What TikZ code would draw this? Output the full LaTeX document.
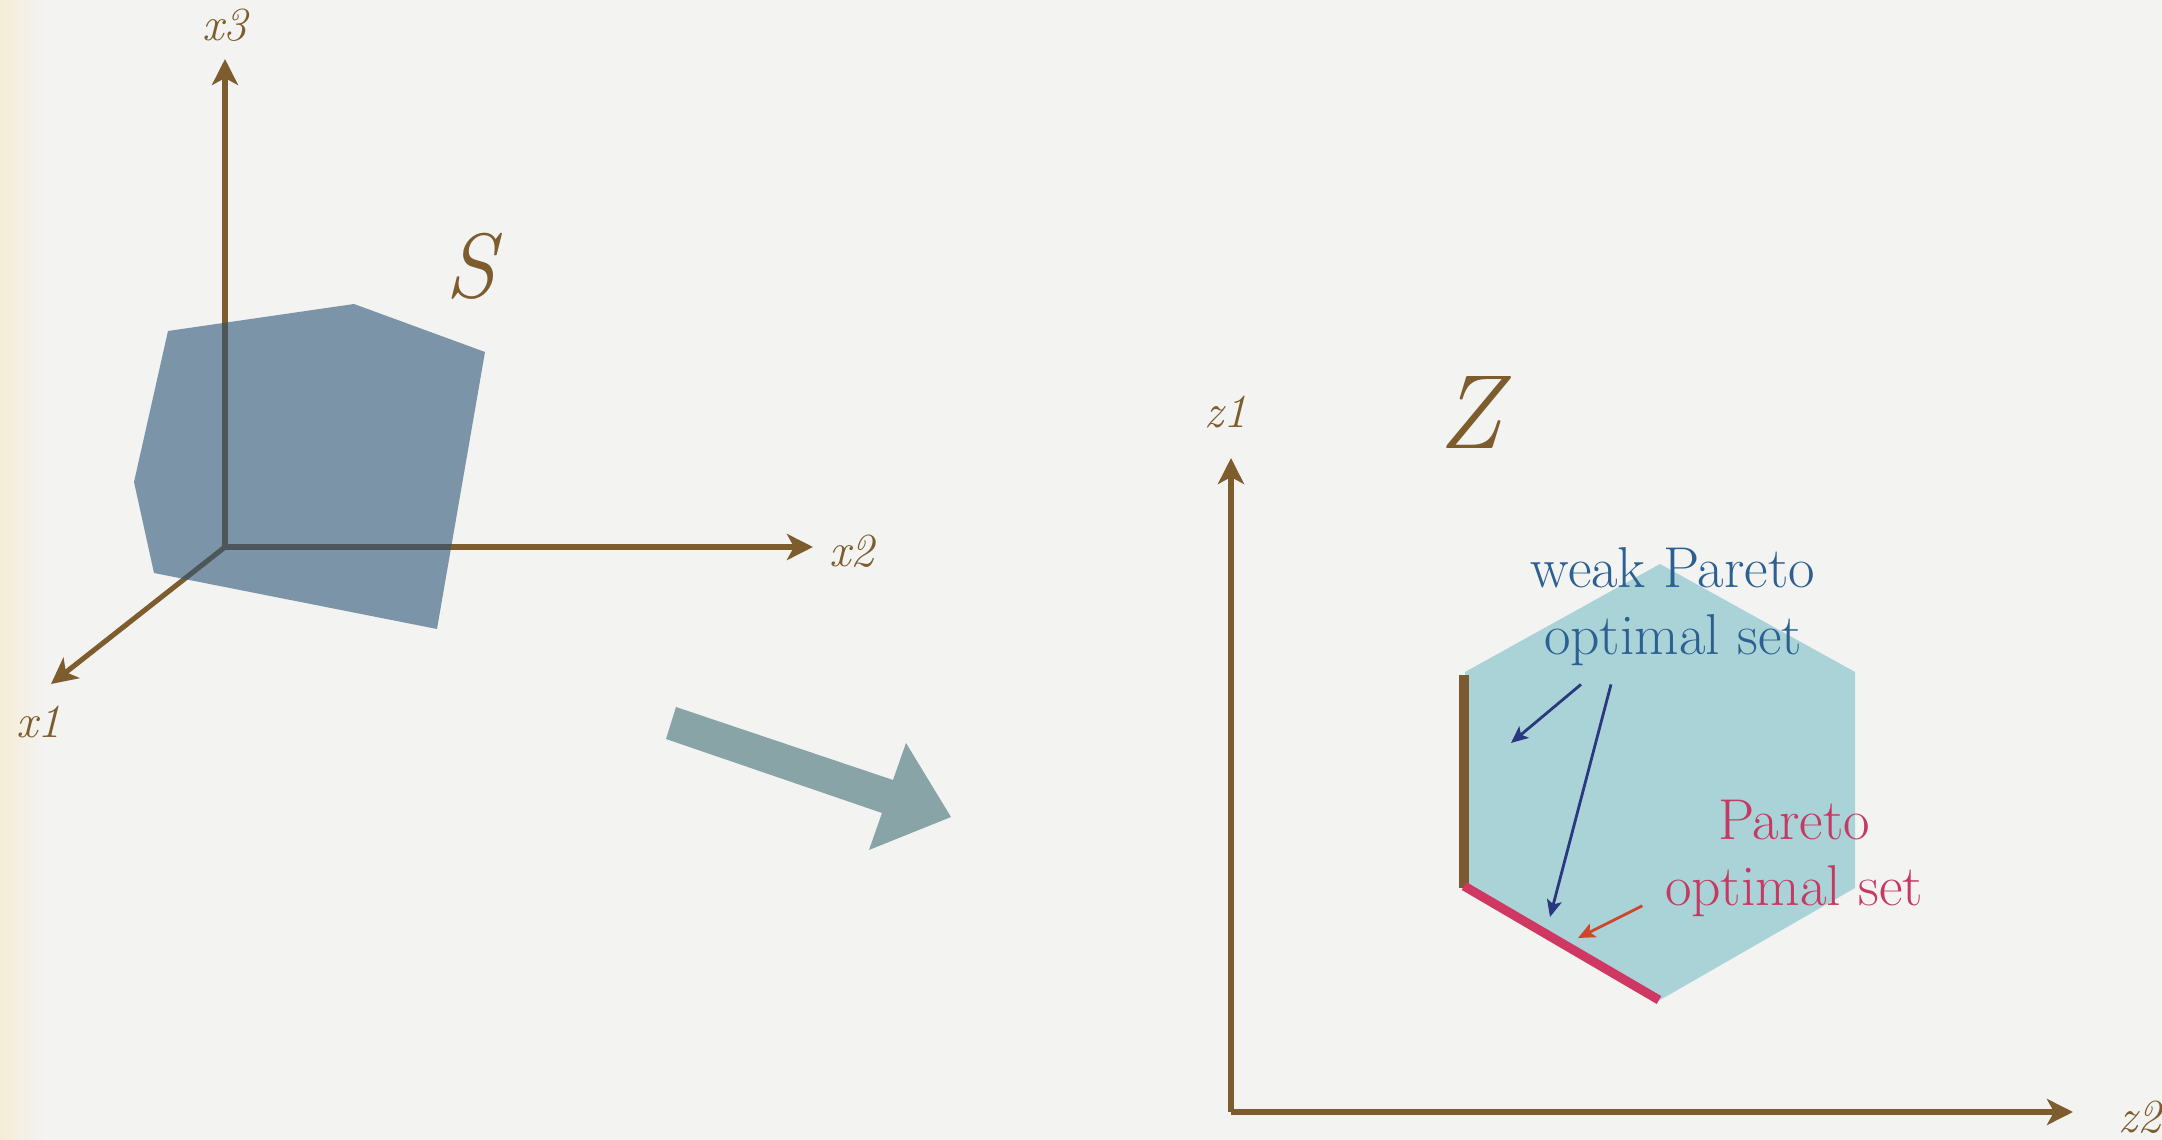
\documentclass[tikz,border=0pt]{standalone}
\usetikzlibrary{arrows.meta,calc}
\definecolor{bgc}{RGB}{243,243,242}
\definecolor{cream}{RGB}{244,237,214}
\definecolor{axisbrown}{RGB}{125,92,46}
\definecolor{sfill}{RGB}{46,85,120}
\definecolor{hexfill}{RGB}{169,211,215}
\definecolor{grayarrow}{RGB}{136,164,166}
\definecolor{wblue}{RGB}{44,96,146}
\definecolor{pinktext}{RGB}{196,58,98}
\definecolor{pinkline}{RGB}{207,56,98}
\definecolor{navy}{RGB}{42,56,128}
\definecolor{redarrow}{RGB}{208,70,42}
\definecolor{segbrown}{RGB}{122,90,46}
\tikzset{
  axisline/.style={draw=axisbrown, line width=1.45pt,
    -{Stealth[length=2.6mm,width=2.6mm,inset=0.7mm]}},
  axislabel/.style={text=axisbrown, inner sep=0pt,
    font=\fontsize{13.5}{15}\selectfont\itshape},
  biglabel/.style={text=axisbrown, inner sep=0pt},
  settext/.style={inner sep=0pt, align=center,
    font=\fontsize{16.4}{19}\selectfont},
  thinarrow/.style={line width=0.8pt,
    -{Stealth[length=1.7mm,width=1.5mm,inset=0.4mm]}},
}
\begin{document}
\begin{tikzpicture}[x=0.1mm,y=-0.1mm]
\useasboundingbox (0,0) rectangle (2162,1140);
\fill[bgc] (0,0) rectangle (2162,1140);
\shade[left color=cream,right color=bgc] (0,0) rectangle (45,1140);

% ---- left: decision space ----
\coordinate (O) at (225,547);
\coordinate (X3) at (225,59);
\coordinate (X2) at (813,547);
\coordinate (X1) at (51,684);
\draw[axisline] (O) -- (X3);
\draw[axisline] (O) -- (X2);
\draw[axisline] (O) -- (X1);
\fill[sfill, opacity=0.6] (168,331) -- (354,304) -- (485,352) -- (437,629)
  -- (154,573) -- (134,482) -- cycle;
\node[axislabel, anchor=base] (lx3) at (225,41) {x3};
\node[axislabel, anchor=base] (lx2) at (852,567) {x2};
\node[axislabel, anchor=base] (lx1) at (39,738) {x1};
\node[biglabel, anchor=base, font=\fontsize{26}{30}\selectfont\itshape] (lS) at (471,298) {S};

% ---- mapping arrow ----
\fill[grayarrow] (676,707) -- (893,780) -- (906,743) -- (951,817)
  -- (869,850) -- (882,813) -- (666,739) -- cycle;

% ---- right: objective space ----
\coordinate (P) at (1231,1112);
\coordinate (Z1) at (1231,458);
\coordinate (Z2) at (2073,1112);
\fill[hexfill] (1660,564) -- (1855,672) -- (1855,888) -- (1660,1000)
  -- (1465,888) -- (1465,672) -- cycle;
\draw[axisline] (P) -- (Z1);
\draw[axisline] (P) -- (Z2);
\node[axislabel, anchor=base] (lz1) at (1226,428) {z1};
\node[axislabel, anchor=base] (lz2) at (2140,1133) {z2};
\node[biglabel, font=\fontsize{30}{34}\selectfont\itshape] (lZ) at (1470,413) {Z};

\draw[segbrown, line width=2.85pt] (1464,675) -- (1464,888);
\draw[pinkline, line width=2.6pt] (1464,886) -- (1659,1000);

\node[settext, text=wblue, anchor=north] (wp) at (1673,547) {weak Pareto\\optimal set};
\node[settext, text=pinktext, anchor=north] (po) at (1794,799) {Pareto\\optimal set};

\coordinate (wa1) at (1511,743);
\coordinate (wa2) at (1550,917);
\coordinate (pa) at (1578,938);
\draw[thinarrow, navy] ($(wp.south)+(-92,18)$) -- (wa1);
\draw[thinarrow, navy] ($(wp.south)+(-62,18)$) -- (wa2);
\draw[thinarrow, redarrow] ($(po.south west)+(-22,-12)$) -- (pa);
\end{tikzpicture}
\end{document}
